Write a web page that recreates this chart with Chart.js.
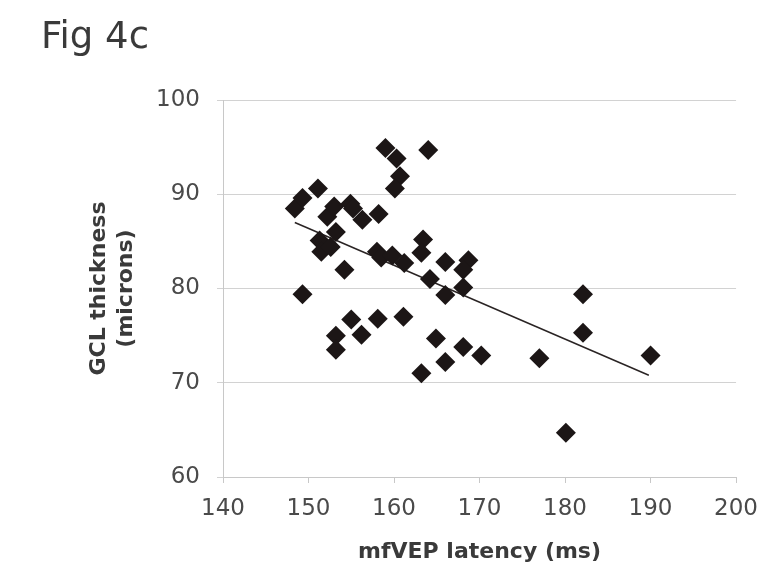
<!DOCTYPE html>
<html>
<head>
<meta charset="utf-8">
<script src="https://cdn.jsdelivr.net/npm/chart.js@4.4.1/dist/chart.umd.min.js"></script>
<style>
  html, body { margin: 0; padding: 0; background: #ffffff; }
  #wrap { width: 770px; height: 571px; position: relative; }
</style>
</head>
<body>
<div id="wrap"><canvas id="c"></canvas></div>
<script>
// mfVEP latency (ms)
const latency = [
  148.4, 149.3, 151.1, 149.3, 152.2, 153.0, 154.9, 155.2, 156.3, 158.2,
  153.2, 151.3, 151.5, 152.6, 154.2, 158.0, 158.5, 159.8, 161.2, 159.0,
  160.3, 160.7, 160.1, 164.0, 163.4, 163.2, 164.2, 166.0, 168.7, 168.1,
  168.1, 166.0, 155.0, 158.1, 161.1, 156.2, 153.2, 153.2, 163.2, 164.9,
  168.1, 170.2, 166.0, 182.1, 182.1, 177.0, 190.0, 180.1
];
// GCL thickness (microns)
const gclThickness = [
  88.5, 89.6, 90.6, 79.4, 87.6, 88.7, 89.0, 88.5, 87.3, 87.9,
  86.0, 85.1, 83.9, 84.4, 82.0, 83.9, 83.3, 83.5, 82.7, 94.9,
  93.8, 91.9, 90.6, 94.7, 85.2, 83.8, 81.0, 82.8, 83.0, 82.0,
  80.1, 79.3, 76.7, 76.8, 77.0, 75.1, 75.0, 73.5, 71.0, 74.7,
  73.8, 72.9, 72.2, 79.4, 75.3, 72.6, 72.9, 64.7
];
// trend line end points
const trendLatency = [148.4, 189.8];
const trendThickness = [87.0, 70.8];

const figTitle = 'Fig 4c';
const xTitle = 'mfVEP latency (ms)';
const yTitle = ['GCL thickness', '(microns)'];
const xRange = [140, 200];
const yRange = [60, 100];
const tickStep = 10;

const points = latency.map((x, i) => ({ x: x, y: gclThickness[i] }));
const trend = trendLatency.map((x, i) => ({ x: x, y: trendThickness[i] }));

new Chart(document.getElementById('c'), {
  type: 'scatter',
  data: {
    datasets: [
      {
        type: 'line',
        data: trend,
        borderColor: '#2a2424',
        borderWidth: 1.5,
        pointRadius: 0,
        fill: false,
        order: 2
      },
      {
        data: points,
        pointStyle: 'rectRot',
        pointRadius: 10,
        backgroundColor: '#1c1616',
        borderColor: '#1c1616',
        borderWidth: 0,
        order: 1
      }
    ]
  },
  options: {
    responsive: true,
    maintainAspectRatio: false,
    animation: false,
    layout: { padding: { left: 41, right: 30, top: 0, bottom: 0 } },
    plugins: {
      legend: { display: false },
      tooltip: { enabled: false },
      title: {
        display: true,
        text: figTitle,
        align: 'start',
        color: '#3a3a3a',
        font: { family: 'DejaVu Sans', size: 37, weight: 'normal', lineHeight: 1.2 },
        padding: { top: 16, bottom: 39.6 }
      }
    },
    scales: {
      x: {
        type: 'linear',
        min: xRange[0],
        max: xRange[1],
        afterFit: (s) => { s.height = 94; },
        ticks: {
          stepSize: tickStep,
          color: '#4a4a4a',
          padding: 12,
          font: { family: 'DejaVu Sans', size: 23 }
        },
        grid: {
          drawOnChartArea: false,
          drawTicks: true,
          tickLength: 6,
          color: '#c8c8c8'
        },
        border: { color: '#c8c8c8', width: 1 },
        title: {
          display: true,
          text: xTitle,
          color: '#3a3a3a',
          font: { family: 'DejaVu Sans', size: 22, weight: 'bold', lineHeight: 1.2 },
          padding: { top: 0, bottom: 6 }
        }
      },
      y: {
        type: 'linear',
        min: yRange[0],
        max: yRange[1],
        afterFit: (s) => { s.width = 182; },
        ticks: {
          stepSize: tickStep,
          color: '#4a4a4a',
          padding: 17,
          font: { family: 'DejaVu Sans', size: 23 }
        },
        grid: {
          drawOnChartArea: true,
          drawTicks: true,
          tickLength: 6,
          color: '#d2d2d2'
        },
        border: { color: '#c8c8c8', width: 1 },
        title: {
          display: true,
          text: yTitle,
          color: '#3a3a3a',
          font: { family: 'DejaVu Sans', size: 22, weight: 'bold', lineHeight: 1.22 },
          padding: { top: 45, bottom: 0 }
        }
      }
    }
  }
});
</script>
</body>
</html>
